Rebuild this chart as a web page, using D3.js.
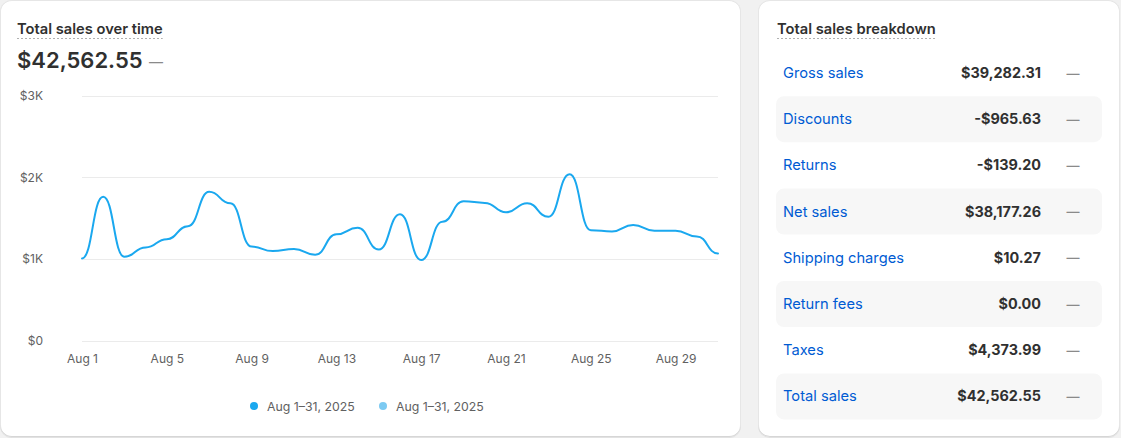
<!DOCTYPE html>
<html><head><meta charset="utf-8">
<script src="https://cdn.jsdelivr.net/npm/d3@7"></script>
<style>
html,body{margin:0;padding:0;background:#f1f1f1;width:1121px;height:438px;overflow:hidden;font-family:Inter,"Noto Sans",sans-serif;}
.card{position:absolute;background:#fff;border-radius:12px;box-shadow:0 1px 0 0 rgba(26,26,26,0.07), inset 0 -1px 0 0 #d6d6d6, inset 1px 0 0 #e6e6e6, inset -1px 0 0 #e6e6e6, inset 0 1px 0 #e6e6e6;}
svg{position:absolute;left:0;top:0;}
</style></head><body>
<div class="card" style="left:0;top:0;width:741px;height:437px"></div>
<div class="card" style="left:758px;top:0;width:362px;height:437px"></div>
<svg id="c" width="1121" height="438"></svg>
<script>
// ---- data ----
const days = [1,2,3,4,5,6,7,8,9,10,11,12,13,14,15,16,17,18,19,20,21,22,23,24,25,26,27,28,29,30,31];
const sales = [1005,1760,1025,1140,1240,1400,1820,1680,1150,1095,1120,1050,1300,1380,1115,1545,985,1455,1705,1685,1570,1680,1515,2035,1350,1335,1415,1345,1345,1275,1065];
const yTicks = [0,1000,2000,3000];
const yTickLabels = ["$0","$1K","$2K","$3K"];
const xTickDays = [1,5,9,13,17,21,25,29];
const xTickLabels = ["Aug 1","Aug 5","Aug 9","Aug 13","Aug 17","Aug 21","Aug 25","Aug 29"];
const legendLabels = ["Aug 1\u201331, 2025","Aug 1\u201331, 2025"];
const chartTitle = "Total sales over time";
const chartTotal = "$42,562.55";
const breakdownTitle = "Total sales breakdown";
const breakdownLabels = ["Gross sales","Discounts","Returns","Net sales","Shipping charges","Return fees","Taxes","Total sales"];
const breakdownValues = ["$39,282.31","-$965.63","-$139.20","$38,177.26","$10.27","$0.00","$4,373.99","$42,562.55"];

// ---- styles ----
const lineColor = "#1aa8ef";
const lineColor2 = "#7ccaf2";
const textGray = "#616161";
const dark = "#303030";

const svg = d3.select("#c");
const x = d3.scaleLinear().domain([1,31]).range([82,718]);
const y = d3.scaleLinear().domain([0,3000]).range([340.5,95.5]);

// title
const t = svg.append("text").attr("x",17).attr("y",34).attr("font-size",14.7).attr("font-weight",600).attr("fill",dark).text(chartTitle);
const tw = t.node().getComputedTextLength();
svg.append("line").attr("x1",17).attr("x2",17+tw).attr("y1",38.5).attr("y2",38.5).attr("stroke","#b0b0b0").attr("stroke-dasharray","2,2");
svg.append("text").attr("x",17).attr("y",68).attr("font-size",22).attr("font-weight",600).attr("fill",dark).text(chartTotal);
svg.append("text").attr("x",149).attr("y",67).attr("font-size",14).attr("fill","#8a8a8a").text("\u2014");

// gridlines
svg.append("g").selectAll("line").data(yTicks).join("line")
  .attr("x1",82).attr("x2",718).attr("y1",d=>Math.round(y(d))+0.5).attr("y2",d=>Math.round(y(d))+0.5)
  .attr("stroke","#ebebeb");

// y axis
const ya = svg.append("g").attr("transform","translate(43,0)")
  .call(d3.axisLeft(y).tickValues(yTicks).tickFormat((d,i)=>yTickLabels[i]).tickSize(0).tickPadding(0));
ya.select(".domain").remove();
ya.selectAll("text").attr("font-family","Inter").attr("font-size",12).attr("fill",textGray);

// x axis
const xa = svg.append("g").attr("transform","translate(0,354)")
  .call(d3.axisBottom(x).tickValues(xTickDays).tickFormat((d,i)=>xTickLabels[i]).tickSize(0).tickPadding(0));
xa.select(".domain").remove();
xa.selectAll("text").attr("font-family","Inter").attr("font-size",12).attr("fill",textGray);

// line
const line = d3.line().x((d,i)=>x(days[i])).y(d=>y(d)).curve(d3.curveBumpX);
svg.append("path").datum(sales).attr("d",line).attr("fill","none").attr("stroke",lineColor).attr("stroke-width",2).attr("stroke-linejoin","round").attr("stroke-linecap","round");

// legend
const legX = [254, 383];
const legColors = [lineColor, lineColor2];
legendLabels.forEach((l,i)=>{
  svg.append("circle").attr("cx",legX[i]).attr("cy",406).attr("r",4).attr("fill",legColors[i]);
  svg.append("text").attr("x",legX[i]+13).attr("y",410.5).attr("font-size",12.3).attr("fill",textGray).text(l);
});

// breakdown
const bt = svg.append("text").attr("x",777).attr("y",34).attr("font-size",14.7).attr("font-weight",600).attr("fill",dark).text(breakdownTitle);
const btw = bt.node().getComputedTextLength();
svg.append("line").attr("x1",777).attr("x2",777+btw).attr("y1",38.5).attr("y2",38.5).attr("stroke","#b0b0b0").attr("stroke-dasharray","2,2");

const rows = svg.append("g").selectAll("g").data(breakdownLabels).join("g")
  .attr("transform",(d,i)=>`translate(0,${50+46.2*i})`);
rows.filter((d,i)=>i%2===1).append("rect").attr("x",776).attr("y",0).attr("width",326).attr("height",46).attr("rx",8).attr("fill","#f7f7f7");
rows.append("text").attr("x",783).attr("y",28).attr("font-size",14.7).attr("fill","#005bd3").text(d=>d);
rows.append("text").attr("x",1041).attr("y",28).attr("text-anchor","end").attr("font-size",14.4).attr("font-weight",650).attr("fill",dark).text((d,i)=>breakdownValues[i]);
rows.append("text").attr("x",1073).attr("y",27.5).attr("text-anchor","middle").attr("font-size",13).attr("font-weight",600).attr("fill","#8a8a8a").text("\u2014");
</script>
</body></html>
